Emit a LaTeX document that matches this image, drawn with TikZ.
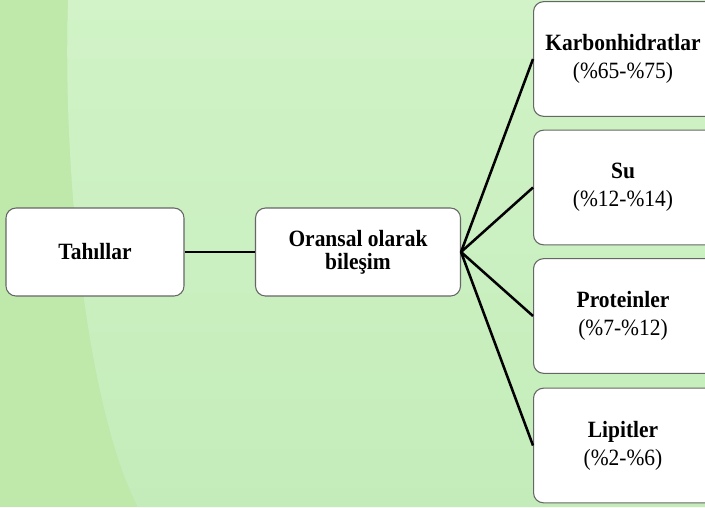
\documentclass[tikz,border=0pt]{standalone}
\usepackage{fontspec}
\setmainfont{Liberation Serif}[FakeStretch=0.92]
\begin{document}
\begin{tikzpicture}[x=0.75pt,y=-0.75pt,
  frame/.style={draw=black!60,line width=0.8pt,fill=white,rounded corners=7.5pt,inner sep=0pt},
  label/.style={align=center,inner sep=0pt,font=\fontsize{17.5pt}{16pt}\selectfont},
  leftbox/.style={frame,label,minimum width=133.5pt,minimum height=66pt},
  midbox/.style={frame,label,minimum width=153.75pt,minimum height=66pt},
  itembox/.style={frame,anchor=west,minimum width=150pt,minimum height=86pt},
  link/.style={line width=1.9pt,black}]
\useasboundingbox (0,0) rectangle (705,507);
\clip (0,0) rectangle (705,507);
% background
\definecolor{bgdark}{RGB}{191,232,171}
\definecolor{bgtop}{RGB}{209,243,199}
\definecolor{bgbot}{RGB}{196,236,186}
\fill[bgdark] (0,0) rectangle (705,507);
\shade[top color=bgtop,bottom color=bgbot]
  (68,0) .. controls (62,200) and (92,420) .. (138,507) -- (705,507) -- (705,0) -- cycle;
% left and middle boxes
\node[leftbox] (tah) at (95,252) {\textbf{Tahıllar}};
\node[midbox] (ora) at (358,252) {\textbf{Oransal olarak}\\[1pt]\textbf{bileşim}};
% right column: frames run past the right edge, texts centred at x = 623
\node[itembox] (kar) at (533,59) {};
\node[itembox] (su) at (533,187.5) {};
\node[itembox] (pro) at (533,316) {};
\node[itembox] (lip) at (533,445.5) {};
\node[label] (kart) at (623,59) {\textbf{Karbonhidratlar}\\[5pt](\%65-\%75)};
\node[label] (sut) at (623,187.5) {\textbf{Su}\\[5pt](\%12-\%14)};
\node[label] (prot) at (623,316) {\textbf{Proteinler}\\[5pt](\%7-\%12)};
\node[label] (lipt) at (623,445.5) {\textbf{Lipitler}\\[5pt](\%2-\%6)};
% connectors
\draw[link] (tah.east) -- (ora.west);
\foreach \t in {kar,su,pro,lip}
  \draw[link] (ora.east) -- (\t.west);
\end{tikzpicture}
\end{document}
